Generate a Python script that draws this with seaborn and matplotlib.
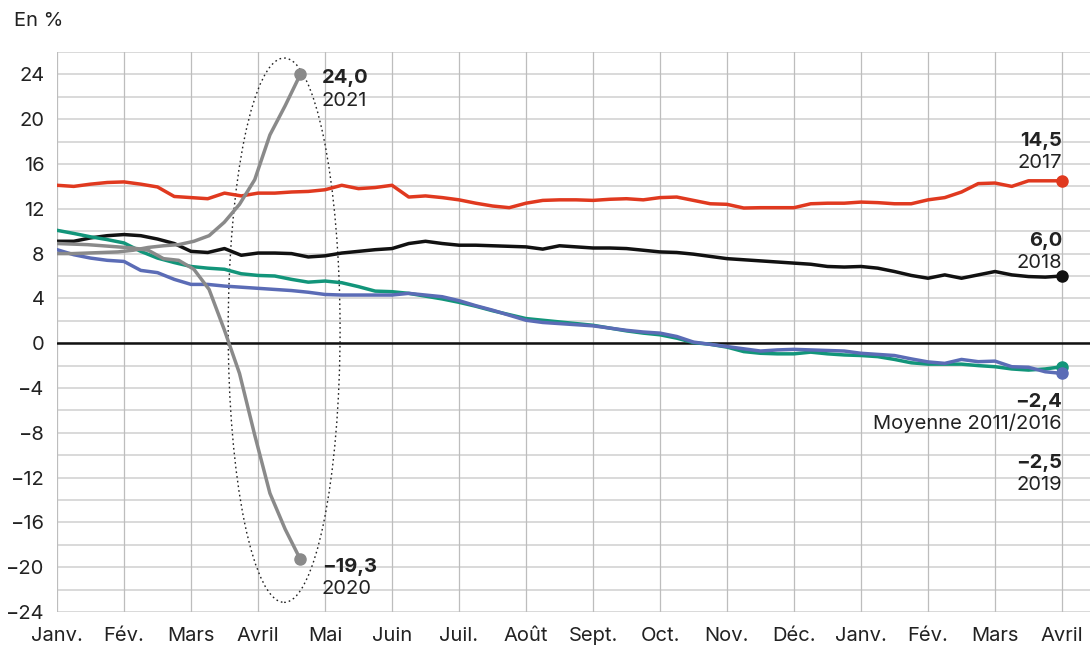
import numpy as np
import pandas as pd
import matplotlib
matplotlib.use('Agg')
import matplotlib.pyplot as plt
from matplotlib.patches import Ellipse
import seaborn as sns

# x positions in months from January (quarter-month steps for the long series)
month_labels = ['Janv.', 'Fév.', 'Mars', 'Avril', 'Mai', 'Juin', 'Juil.', 'Août',
                'Sept.', 'Oct.', 'Nov.', 'Déc.', 'Janv.', 'Fév.', 'Mars', 'Avril']

y2017 = [14.1, 14.0, 14.2, 14.35, 14.4, 14.2, 13.95, 13.1, 13.0, 12.9, 13.4, 13.15, 13.4,
         13.4, 13.5, 13.55, 13.7, 14.1, 13.8, 13.9, 14.1, 13.05, 13.15, 13.0, 12.8, 12.5,
         12.25, 12.1, 12.5, 12.75, 12.8, 12.8, 12.75, 12.85, 12.9, 12.8, 13.0, 13.05, 12.75,
         12.45, 12.4, 12.07, 12.1, 12.1, 12.1, 12.45, 12.5, 12.5, 12.6, 12.55, 12.45, 12.45,
         12.8, 13.0, 13.5, 14.25, 14.3, 14.0, 14.5, 14.5, 14.5]
y2018 = [9.1, 9.1, 9.4, 9.6, 9.7, 9.6, 9.3, 8.9, 8.2, 8.1, 8.45, 7.85, 8.05, 8.05, 8.0,
         7.7, 7.8, 8.05, 8.2, 8.35, 8.45, 8.9, 9.1, 8.9, 8.75, 8.75, 8.7, 8.65, 8.6, 8.4,
         8.7, 8.6, 8.5, 8.5, 8.45, 8.3, 8.15, 8.1, 7.95, 7.75, 7.55, 7.45, 7.35, 7.25, 7.15,
         7.05, 6.85, 6.8, 6.85, 6.7, 6.4, 6.05, 5.8, 6.1, 5.8, 6.1, 6.4, 6.1, 5.95, 5.9, 6.0]
y_moy = [10.08, 9.8, 9.5, 9.25, 8.95, 8.2, 7.6, 7.2, 6.85, 6.7, 6.6, 6.2, 6.05, 6.0, 5.7,
         5.45, 5.55, 5.4, 5.05, 4.65, 4.6, 4.45, 4.2, 3.95, 3.65, 3.3, 2.9, 2.55, 2.2, 2.05,
         1.9, 1.75, 1.6, 1.35, 1.1, 0.9, 0.75, 0.45, 0.05, -0.1, -0.35, -0.75, -0.9, -0.95,
         -0.95, -0.8, -0.95, -1.05, -1.1, -1.2, -1.45, -1.75, -1.87, -1.87, -1.87, -2.0,
         -2.1, -2.3, -2.4, -2.3, -2.1]
y2019 = [8.35, 7.9, 7.6, 7.4, 7.3, 6.5, 6.3, 5.7, 5.25, 5.25, 5.1, 5.0, 4.9, 4.8, 4.7,
         4.55, 4.35, 4.3, 4.3, 4.3, 4.3, 4.45, 4.3, 4.15, 3.8, 3.35, 2.95, 2.5, 2.05, 1.85,
         1.75, 1.65, 1.55, 1.35, 1.15, 1.0, 0.9, 0.6, 0.1, -0.1, -0.3, -0.5, -0.7, -0.6,
         -0.55, -0.6, -0.65, -0.7, -0.9, -1.0, -1.1, -1.4, -1.67, -1.8, -1.45, -1.65, -1.6,
         -2.1, -2.15, -2.55, -2.7]

# weekly series (2020, 2021)
y2020 = [8.9, 8.85, 8.8, 8.7, 8.6, 8.5, 8.3, 7.55, 7.4, 6.6, 4.8, 1.2, -2.7, -8.2,
         -13.4, -16.6, -19.3]
y2021 = [8.0, 8.0, 8.05, 8.1, 8.15, 8.3, 8.55, 8.7, 8.8, 9.1, 9.6, 10.8, 12.4, 14.6,
         18.6, 21.2, 24.0]

x_long = np.arange(len(y2017)) * 0.25
x_week = np.arange(len(y2020)) * 0.227

long_df = pd.DataFrame({'x': x_long, '2017': y2017, '2018': y2018,
                        'moy': y_moy, '2019': y2019})
week_df = pd.DataFrame({'x': x_week, '2020': y2020, '2021': y2021})

c_red = '#e0391f'
c_black = '#111111'
c_green = '#12957a'
c_blue = '#5b6cb6'
c_gray = '#8a8a8a'

sns.set_theme(style='white')
plt.rcParams['font.family'] = ['Inter', 'DejaVu Sans']

fig = plt.figure(figsize=(10.9, 6.52), dpi=100)
ax = fig.add_axes([57 / 1090, 1 - 612 / 652, 1 - 57 / 1090, 560 / 652])

ax.set_xlim(0, (1090 - 57) / 67)
ax.set_ylim(-24, 26)

# grid
for yv in range(-24, 27, 2):
    ax.axhline(yv, color='#cfcfcf', lw=1.1, zorder=0)
for xv in range(16):
    ax.axvline(xv, color='#bdbdbd', lw=0.9, zorder=0)
ax.axhline(0, color='#111111', lw=1.8, zorder=1)

lw = 2.5
sns.lineplot(data=long_df, x='x', y='2017', color=c_red, lw=lw, ax=ax, zorder=3)
sns.lineplot(data=long_df, x='x', y='2018', color=c_black, lw=lw, ax=ax, zorder=3)
sns.lineplot(data=long_df, x='x', y='moy', color=c_green, lw=lw, ax=ax, zorder=3)
sns.lineplot(data=long_df, x='x', y='2019', color=c_blue, lw=lw, ax=ax, zorder=3)
sns.lineplot(data=week_df, x='x', y='2020', color=c_gray, lw=lw, ax=ax, zorder=4)
sns.lineplot(data=week_df, x='x', y='2021', color=c_gray, lw=lw, ax=ax, zorder=4)

# end points
ends = [(x_long[-1], y2017[-1], c_red), (x_long[-1], y2018[-1], c_black),
        (x_long[-1], y_moy[-1], c_green), (x_long[-1], y2019[-1], c_blue),
        (x_week[-1], y2020[-1], c_gray), (x_week[-1], y2021[-1], c_gray)]
for ex, ey, col in ends:
    ax.plot(ex, ey, 'o', color=col, ms=8, zorder=5, clip_on=False)

# dotted ellipse around the 2020/2021 curves
ax.add_patch(Ellipse((3.39, 1.16), 1.67, 48.6, fill=False, ls=(0, (1.2, 2.2)),
                     lw=1.0, color='#222222', zorder=2))

# labels
tc = '#222222'
fs = 14.5
def lab(x, y, val, name, ha):
    ax.text(x, y, val, ha=ha, va='baseline', fontsize=fs, fontweight='bold', color=tc)
    ax.text(x, y - 2.0, name, ha=ha, va='baseline', fontsize=fs, color=tc)

lab(3.95, 23.2, '24,0', '2021', 'left')
lab(3.95, -20.4, '\u221219,3', '2020', 'left')
lab(15.0, 17.6, '14,5', '2017', 'right')
lab(15.0, 8.7, '6,0', '2018', 'right')
lab(15.0, -5.7, '\u22122,4', 'Moyenne 2011/2016', 'right')
lab(15.0, -11.1, '\u22122,5', '2019', 'right')

fig.text(14 / 1090, 1 - 26 / 652, 'En %', fontsize=fs, color=tc, va='baseline')

ax.set_xticks(range(16))
ax.set_xticklabels(month_labels)
ax.set_yticks(range(-24, 25, 4))
ax.tick_params(axis='both', length=0, labelsize=fs, labelcolor=tc)
ax.tick_params(axis='x', pad=11)
ax.tick_params(axis='y', pad=9)
ax.set_xlabel('')
ax.set_ylabel('')
for s in ax.spines.values():
    s.set_visible(False)

fig.savefig('out.png', dpi=100)
